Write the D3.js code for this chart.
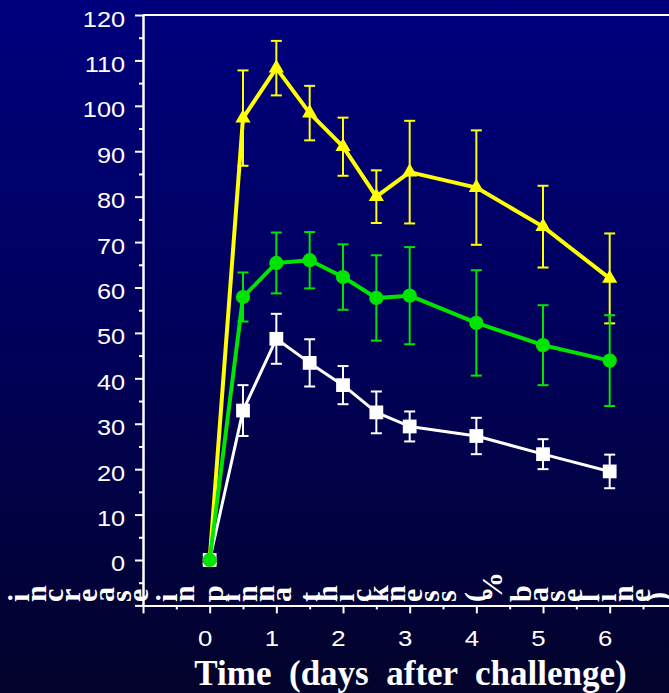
<!DOCTYPE html>
<html lang="en">
<head>
<meta charset="UTF-8">
<script src="https://d3js.org/d3.v7.min.js"></script>
<title>Pinna thickness after challenge</title>
<style>
    body { margin: 0; background: #000; }
    svg { display: block; }
</style>
</head>
<body>
<svg class="chart"></svg>
<script>
    // values
    const days = [0, 0.5, 1, 1.5, 2, 2.5, 3, 4, 5, 6];

    const yellowMean = [0, 97.3, 108.3, 98.4, 91, 80, 85.4, 82, 73.4, 62];
    const yellowErr = [0, 10.5, 6, 6, 6.4, 5.8, 11.3, 12.6, 9, 9.9];

    const greenMean = [0, 57.9, 65.4, 66, 62.3, 57.7, 58.2, 52.2, 47.3, 43.9];
    const greenErr = [0, 5.4, 6.7, 6.2, 7.2, 9.4, 10.7, 11.6, 8.8, 10];

    const whiteMean = [0, 32.9, 48.7, 43.4, 38.5, 32.5, 29.4, 27.3, 23.3, 19.5];
    const whiteErr = [0, 5.6, 5.5, 5.2, 4.2, 4.6, 3.3, 4, 3.3, 3.7];

    const xTickLabels = [0, 1, 2, 3, 4, 5, 6];
    const yTickLabels = [0, 10, 20, 30, 40, 50, 60, 70, 80, 90, 100, 110, 120];

    const xTitle = "Time  (days  after  challenge)";
    const yTitle = "increase in pinna thickness (% baseline)";

    let width = 669;
    let height = 693;

    let svg = d3.select('.chart').attr('width', width).attr('height', height);

    // background
    let grad = svg.append('defs').append('linearGradient')
        .attr('id', 'bg').attr('x1', 0).attr('y1', 0).attr('x2', 0).attr('y2', 1);
    grad.append('stop').attr('offset', '0%').attr('stop-color', '#00007e');
    grad.append('stop').attr('offset', '45%').attr('stop-color', '#00005e');
    grad.append('stop').attr('offset', '100%').attr('stop-color', '#03032b');
    svg.append('rect').attr('width', width).attr('height', height).attr('fill', 'url(#bg)');

    var x = d3.scaleLinear().domain([-1, 7]).range([143, 143 + 8 * 66.67]);
    var y = d3.scaleLinear().domain([-10, 120]).range([605.4, 15]);

    // top frame line
    svg.append('line')
        .attr('x1', x(-1)).attr('x2', width)
        .attr('y1', y(120)).attr('y2', y(120))
        .style('stroke', 'white').style('stroke-width', 2);

    // y axis: major + minor ticks
    let yMinor = svg.append('g').attr('transform', 'translate(' + x(-1) + ',0)')
        .call(d3.axisLeft(y).tickValues(d3.range(-5, 120, 10)).tickSize(4).tickSizeOuter(0).tickFormat(''));
    let yMajor = svg.append('g').attr('transform', 'translate(' + x(-1) + ',0)')
        .call(d3.axisLeft(y).tickValues([-10].concat(yTickLabels)).tickSize(8).tickSizeOuter(0)
            .tickFormat(function (d) { return d < 0 ? '' : d; }));

    // x axis: major + minor ticks
    let xMinor = svg.append('g').attr('transform', 'translate(0,' + y(-10) + ')')
        .call(d3.axisBottom(x).tickValues(d3.range(-0.5, 7, 1)).tickSize(4).tickSizeOuter(0).tickFormat(''));
    let xMajor = svg.append('g').attr('transform', 'translate(0,' + y(-10) + ')')
        .call(d3.axisBottom(x).tickValues([-1].concat(xTickLabels).concat([7])).tickSize(8).tickSizeOuter(0)
            .tickFormat(function (d) { return (d < 0 || d > 6) ? '' : d; }));

    [yMinor, yMajor, xMinor, xMajor].forEach(function (g) {
        g.select('.domain').style('stroke', 'white').style('stroke-width', 2);
        g.selectAll('.tick line').style('stroke', 'white').style('stroke-width', 2);
    });

    yMajor.selectAll('text')
        .attr('x', -18 / 1.15).attr('dy', '0.5em')
        .attr('transform', 'scale(1.15,1)')
        .style('font-family', '"Liberation Sans", Arial, sans-serif')
        .style('font-size', '22px').style('fill', 'white');

    xMajor.selectAll('text')
        .attr('x', -5 / 1.12).attr('y', 41).attr('dy', 0)
        .attr('transform', 'scale(1.12,1)')
        .style('font-family', '"Liberation Sans", Arial, sans-serif')
        .style('font-size', '23px').style('fill', 'white');

    // series
    let series = [
        { mean: yellowMean, err: yellowErr, color: '#ffff00', lw: 4, symbol: d3.symbolTriangle, size: 100 },
        { mean: whiteMean, err: whiteErr, color: '#ffffff', lw: 3, symbol: d3.symbolSquare, size: 190 },
        { mean: greenMean, err: greenErr, color: '#00e400', lw: 4, symbol: d3.symbolCircle, size: 160 }
    ];

    series.forEach(function (s) {
        let pts = days.map(function (d, i) { return { day: d, v: s.mean[i], e: s.err[i] }; });
        let g = svg.append('g');

        g.append('path')
            .datum(pts)
            .attr('fill', 'none')
            .style('stroke', s.color).style('stroke-width', s.lw).style('stroke-linejoin', 'round')
            .attr('d', d3.line().x(function (p) { return x(p.day); }).y(function (p) { return y(p.v); }));

        let bars = g.selectAll('.err')
            .data(pts.filter(function (p) { return p.e > 0; }))
            .enter()
            .append('g');
        bars.append('line')
            .attr('x1', function (p) { return x(p.day); })
            .attr('x2', function (p) { return x(p.day); })
            .attr('y1', function (p) { return y(p.v + p.e); })
            .attr('y2', function (p) { return y(p.v - p.e); })
            .style('stroke', s.color).style('stroke-width', 2);
        [1, -1].forEach(function (sign) {
            bars.append('line')
                .attr('x1', function (p) { return x(p.day) - 5.5; })
                .attr('x2', function (p) { return x(p.day) + 5.5; })
                .attr('y1', function (p) { return y(p.v + sign * p.e); })
                .attr('y2', function (p) { return y(p.v + sign * p.e); })
                .style('stroke', s.color).style('stroke-width', 2);
        });

        g.selectAll('.mark')
            .data(pts)
            .enter()
            .append('path')
            .attr('transform', function (p) { return 'translate(' + x(p.day) + ',' + y(p.v) + ')'; })
            .attr('d', d3.symbol().type(s.symbol).size(s.size))
            .attr('fill', s.color);
    });

    // x title
    svg.append('text')
        .attr('x', 410.5).attr('y', 685)
        .attr('text-anchor', 'middle')
        .style('white-space', 'pre')
        .style('font-family', '"Liberation Serif", "Times New Roman", serif')
        .style('font-weight', 'bold').style('font-size', '35px').style('fill', 'white')
        .text(xTitle);

    // y title, glyphs turned one by one and laid along the bottom
    let cursor = 22;
    let glyphs = [];
    for (const ch of yTitle) {
        if (ch === ' ') { cursor += 12; continue; }
        glyphs.push({ ch: ch, cx: cursor });
        cursor += 17;
    }
    svg.append('g').selectAll('text')
        .data(glyphs)
        .enter()
        .append('text')
        .attr('transform', function (d) { return 'translate(' + d.cx + ',602) rotate(-90)'; })
        .attr('dy', '0.23em')
        .style('font-family', '"Liberation Serif", "Times New Roman", serif')
        .style('font-weight', 'bold').style('font-size', '30px').style('fill', 'white')
        .text(function (d) { return d.ch; });
</script>
</body>
</html>
